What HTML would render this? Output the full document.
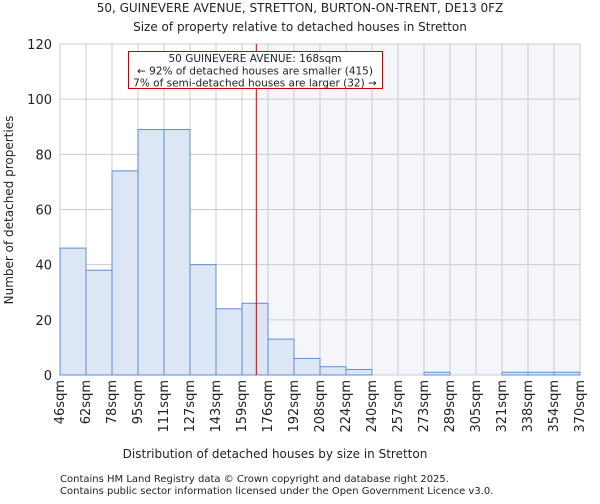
<!DOCTYPE html>
<html><head><meta charset="utf-8"><style>
body{margin:0;background:#fff;font-family:"DejaVu Sans","Liberation Sans",sans-serif}
svg text{font-family:"DejaVu Sans","Liberation Sans",sans-serif;fill:#222}
</style></head><body>
<svg id="c" width="600" height="500">
<text x="300" y="12" font-size="12" text-anchor="middle">50, GUINEVERE AVENUE, STRETTON, BURTON-ON-TRENT, DE13 0FZ</text>
<text x="300" y="31" font-size="12" text-anchor="middle">Size of property relative to detached houses in Stretton</text>
<g id="plot"></g>
<text x="275" y="458" font-size="12" text-anchor="middle">Distribution of detached houses by size in Stretton</text>
<text transform="translate(13,210) rotate(-90)" font-size="12" text-anchor="middle">Number of detached properties</text>
<text x="60" y="482" font-size="10">Contains HM Land Registry data © Crown copyright and database right 2025.</text>
<text x="60" y="494" font-size="10">Contains public sector information licensed under the Open Government Licence v3.0.</text>
</svg>
<script>
const categories=["46sqm","62sqm","78sqm","95sqm","111sqm","127sqm","143sqm","159sqm","176sqm","192sqm","208sqm","224sqm","240sqm","257sqm","273sqm","289sqm","305sqm","321sqm","338sqm","354sqm","370sqm"];
const counts=[46,38,74,89,89,40,24,26,13,6,3,2,0,0,1,0,0,1,1,1];
const yTicks=[0,20,40,60,80,100,120];
const propertyBin=7.55;
const NS="http://www.w3.org/2000/svg";
const L=60,R=580,T=44,B=375,yMax=120;
const bw=(R-L)/counts.length;
const xs=i=>L+i*bw;
const ys=v=>B-(v/yMax)*(B-T);
const g=document.getElementById('plot');
function mk(t,a){const e=document.createElementNS(NS,t);for(const k in a)e.setAttribute(k,a[k]);g.appendChild(e);return e;}
const px=xs(propertyBin);
let e=mk('rect',{x:px,y:T,width:R-px,height:B-T,fill:'#f4f6fc'});


for(let i=0;i<=counts.length;i++){e=mk('line',{x1:xs(i),x2:xs(i),y1:T,y2:B,stroke:'#cccccc'});

}
yTicks.forEach(v=>{e=mk('line',{x1:L,x2:R,y1:ys(v),y2:ys(v),stroke:'#cccccc'});


e=mk('text',{x:L-8,y:ys(v)+5,'font-size':13,'text-anchor':'end'});e.textContent=v;

});
counts.forEach((v,i)=>{if(v<=0)return;e=mk('rect',{x:xs(i),y:ys(v),width:bw,height:B-ys(v),fill:'#dce6f4',stroke:'#5b8fd6','stroke-width':1});

});
categories.forEach((c,i)=>{const x=xs(i)+4;e=mk('text',{transform:`translate(${x},380) rotate(-90)`,'font-size':13,'text-anchor':'end'});e.textContent=c;

});
e=mk('line',{x1:px,x2:px,y1:T,y2:B,stroke:'#cc0000','stroke-width':1});


e=mk('rect',{x:128.5,y:51.5,width:254,height:37,fill:'#fff',stroke:'#cc0000'});


["50 GUINEVERE AVENUE: 168sqm","← 92% of detached houses are smaller (415)","7% of semi-detached houses are larger (32) →"].forEach((t,k)=>{e=mk('text',{x:255,y:62+k*12.3,'font-size':10.5,'text-anchor':'middle'});e.textContent=t;

});
</script>
</body></html>
